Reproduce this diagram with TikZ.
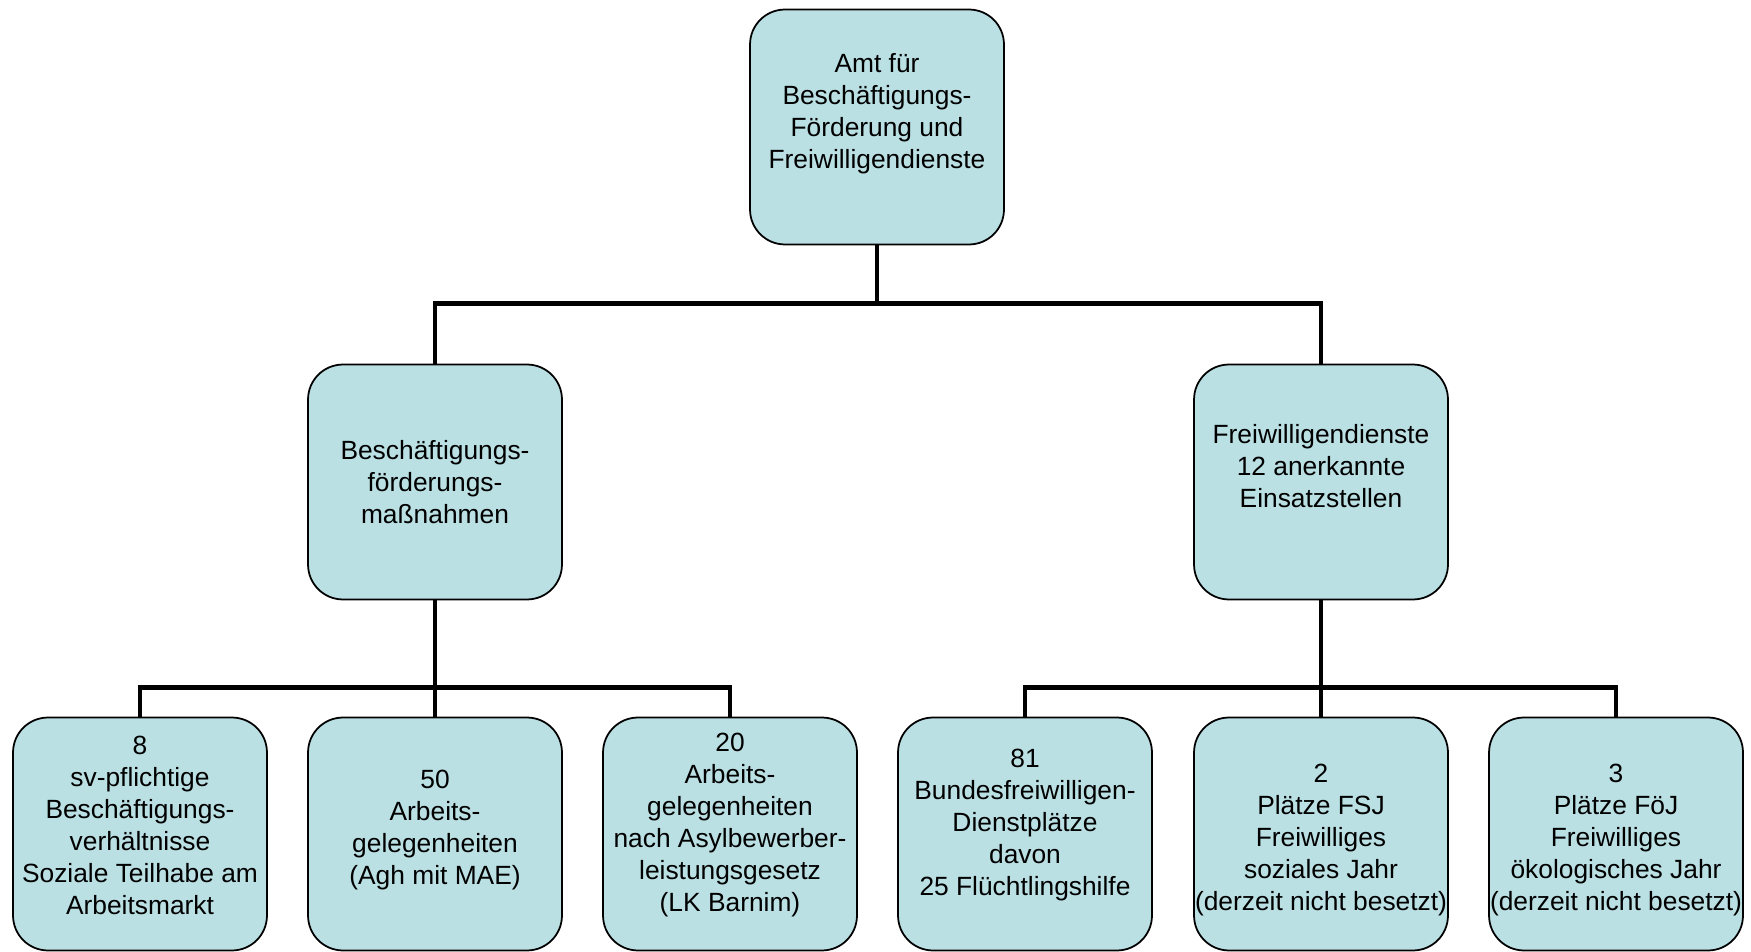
\documentclass[tikz,border=0pt]{standalone}
\usepackage{fontspec}
\setmainfont{Liberation Sans}
\definecolor{boxfill}{RGB}{186,224,228}
\begin{document}
\begin{tikzpicture}[x=0.02cm, y=-0.02cm,
        every node/.style={font=\fontsize{15}{18.2}\selectfont},
        unit/.style={draw=black, line width=1pt, fill=boxfill, rounded corners=0.7cm,
            align=center, minimum width=5.08cm, minimum height=4.7cm, inner xsep=0pt},
        link/.style={line width=2.8pt}]
        \useasboundingbox (0,0) rectangle (1751,952);
        \node[unit] (amt) at (877,127) {Amt für\\Beschäftigungs-\\Förderung und\\Freiwilligendienste\\ \mbox{}};
        \node[unit] (dept-1) at (435,482) {Beschäftigungs-\\förderungs-\\maßnahmen};
        \node[unit] (dept-2) at (1321,482) {Freiwilligendienste\\12 anerkannte\\Einsatzstellen\\ \mbox{}};
        % rules only nudge the text up or down inside the boxes
        \foreach \index/\xpos/\boxtext in {
                1/140/{8\\sv-pflichtige\\Beschäftigungs-\\verhältnisse\\Soziale Teilhabe am\\Arbeitsmarkt\rule[-10pt]{0pt}{0pt}},
                2/435/{50\\Arbeits-\\gelegenheiten\\(Agh mit MAE)\rule[-8pt]{0pt}{0pt}},
                3/730/{20\\Arbeits-\\gelegenheiten\\nach Asylbewerber-\\leistungsgesetz\\(LK Barnim)\rule[-13pt]{0pt}{0pt}},
                4/1025/{81\\Bundesfreiwilligen-\\Dienstplätze\\davon\\ 25 Flüchtlingshilfe\rule[-13pt]{0pt}{0pt}},
                5/1321/{\rule{0pt}{17pt}2\\Plätze FSJ\\Freiwilliges\\ soziales Jahr\\(derzeit nicht besetzt)},
                6/1616/{\rule{0pt}{17pt}3\\Plätze FöJ\\Freiwilliges\\ökologisches Jahr\\(derzeit nicht besetzt)}}
            \node[unit, minimum height=4.66cm] (sub-\index) at (\xpos,834) {\boxtext};
        \foreach \index in {1,2}
            \draw[link] (amt.south) -- ++(0,58) -| (dept-\index.north);
        \foreach \index in {1,2,3}
            \draw[link] (dept-1.south) -- ++(0,87) -| (sub-\index.north);
        \foreach \index in {4,5,6}
            \draw[link] (dept-2.south) -- ++(0,87) -| (sub-\index.north);
    \end{tikzpicture}
\end{document}
